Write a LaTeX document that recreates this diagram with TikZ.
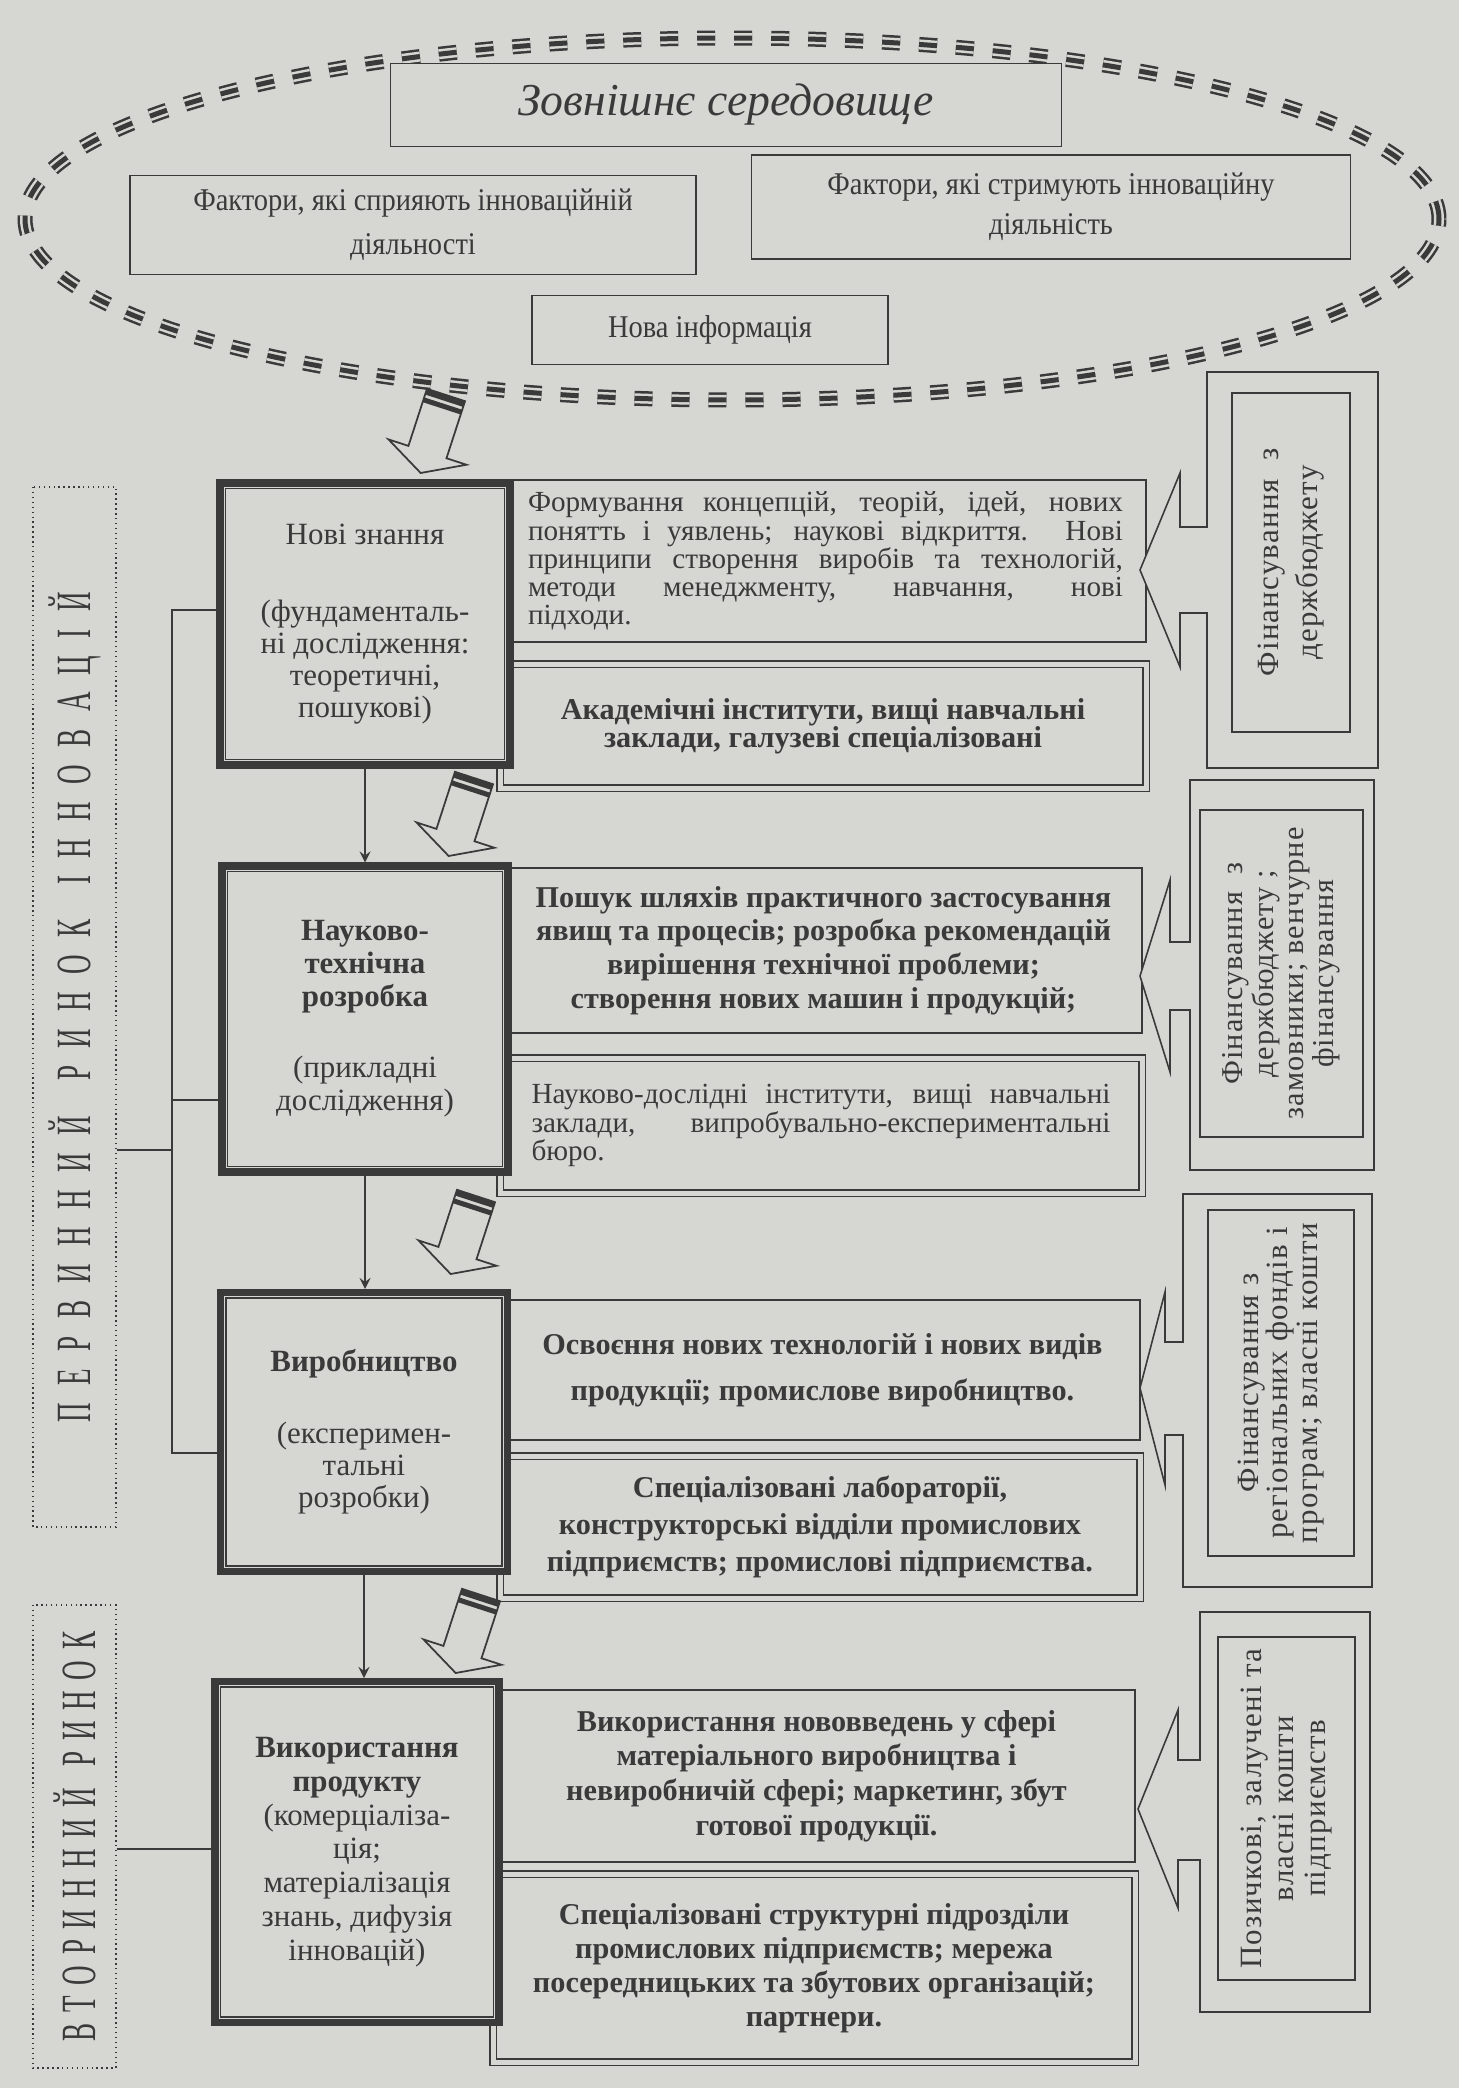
\documentclass[tikz,border=0pt]{standalone}
\usepackage{fontspec}
\setmainfont{Liberation Serif}
\newfontfamily\sidefont{Liberation Serif}[FakeStretch=0.55]
\newfontfamily\topfont{Liberation Serif}[FakeStretch=0.9]
\newfontfamily\fundfont{Liberation Serif}[LetterSpace=4]
\usepackage{tikz}
\definecolor{paper}{RGB}{214,214,210}
\definecolor{ink}{RGB}{58,58,58}
\setlength{\lineskiplimit}{-20pt}
\newcommand{\jl}[2][59.5mm]{\makebox[#1][s]{#2}}
\newcommand{\hollowarrow}[2]{%
  \begin{scope}[shift={(#1,#2)},rotate=-18]
    \draw[hollow] (-20,0) -- (20,0) -- (20,60) -- (41,60) -- (0,82) -- (-41,60) -- (-20,60) -- cycle;
    \fill[ink] (-20,0) rectangle (20,6) (-20,9) rectangle (20,14);
  \end{scope}}

\begin{document}
\begin{tikzpicture}[x=0.1mm,y=-0.1mm,
    every node/.style={text=ink},
    boxline/.style={draw=ink,line width=0.45pt,fill=paper,inner sep=0pt},
    topbox/.style={boxline,align=center,font=\topfont\fontsize{9}{11}\selectfont},
    sidebox/.style={draw=ink,densely dotted,line width=0.4pt,inner sep=0pt,rotate=90,font=\sidefont\fontsize{14}{14}\selectfont},
    stagebox/.style={draw=ink,line width=2pt,fill=paper,align=center,inner sep=0pt,font=\fontsize{8.8}{9.1}\selectfont},
    descbox/.style={boxline,align=center,font=\bfseries\fontsize{8.6}{9.6}\selectfont},
    orgbox/.style={descbox,double=paper,double distance=0.5mm},
    fundbox/.style={boxline,rotate=90,align=center,font=\fundfont\fontsize{8.6}{8.6}\selectfont},
    fundline/.style={draw=ink,line width=0.45pt,fill=paper},
    flow/.style={draw=ink,line width=0.4pt,-stealth},
    link/.style={draw=ink,line width=0.4pt},
    hollow/.style={draw=ink,line width=0.5pt,fill=paper}]

  \useasboundingbox[fill=paper] (0,0) rectangle (1459,2088);

  \foreach \w/\c in {1.5mm/ink,1.0mm/paper,0.5mm/ink}
    \draw[\c,line width=\w,dash pattern=on 1.8mm off 1.9mm] (732,219) ellipse [x radius=70.7mm,y radius=18.1mm];

  \node[topbox,minimum width=67.1mm,minimum height=8.3mm,font=\itshape\fontsize{13}{15}\selectfont] (env) at (726,105) {Зовнішнє середовище};
  \node[topbox,minimum width=56.6mm,minimum height=9.9mm,font=\topfont\fontsize{9}{12.5}\selectfont] (pro) at (413,225) {Фактори, які сприяють інноваційній\\діяльності};
  \node[topbox,minimum width=59.9mm,minimum height=10.4mm,font=\topfont\fontsize{9}{11.5}\selectfont] (contra) at (1051,207) {Фактори, які стримують інноваційну\\діяльність};
  \node[topbox,minimum width=35.6mm,minimum height=6.9mm] (info) at (710,330) {Нова інформація};

  \node[sidebox,minimum width=104mm,minimum height=8.3mm] (prim) at (74.5,1007) {\makebox[83mm][s]{П Е Р В И Н Н И Й \ Р И Н О К \ І Н Н О В А Ц І Й}};
  \node[sidebox,minimum width=46.3mm,minimum height=8.3mm] (sec) at (74.5,1836.5) {\makebox[41mm][s]{В Т О Р И Н Н И Й \ Р И Н О К}};

  \node[descbox,minimum width=64.1mm,minimum height=16.2mm,align=left,font=\fontsize{8.3}{8}\selectfont] (d1a) at (825.5,561)
    {\jl{Формування концепцій, теорій, ідей, нових}\\ \jl{понятть і уявлень; наукові відкриття. Нові}\\ \jl{принципи створення виробів та технологій,}\\ \jl{методи менеджменту, навчання, нові}\\ підходи.};
  \node[orgbox,minimum width=64.6mm,minimum height=12.4mm,font=\bfseries\fontsize{8.6}{8}\selectfont] (d1b) at (823,726)
    {Академічні інститути, вищі навчальні\\заклади, галузеві спеціалізовані};
  \node[descbox,minimum width=63.7mm,minimum height=16.5mm] (d2a) at (823.5,950.5)
    {Пошук шляхів практичного застосування\\явищ та процесів; розробка рекомендацій\\вирішення технічної проблеми;\\створення нових машин і продукцій;};
  \node[orgbox,minimum width=64.2mm,minimum height=13.5mm,align=left,font=\fontsize{8.3}{8}\selectfont] (d2b) at (821,1125.5)
    {\jl[57.9mm]{Науково-дослідні інститути, вищі навчальні}\\ \jl[57.9mm]{заклади, випробувально-експериментальні}\\ бюро.};
  \node[descbox,minimum width=63.5mm,minimum height=14mm,font=\bfseries\fontsize{8.6}{13}\selectfont] (d3a) at (822.5,1370)
    {Освоєння нових технологій і нових видів\\продукції; промислове виробництво.};
  \node[orgbox,minimum width=64mm,minimum height=14.2mm,font=\bfseries\fontsize{8.6}{10.5}\selectfont] (d3b) at (820,1527)
    {Спеціалізовані лабораторії,\\конструкторські відділи промислових\\підприємств; промислові підприємства.};
  \node[descbox,minimum width=63.7mm,minimum height=17.2mm,font=\bfseries\fontsize{8.6}{9.9}\selectfont] (d4a) at (816.5,1776)
    {Використання нововведень у сфері\\матеріального виробництва і\\невиробничій сфері; маркетинг, збут\\готової продукції.};
  \node[orgbox,minimum width=64.2mm,minimum height=18.8mm,font=\bfseries\fontsize{8.6}{9.7}\selectfont] (d4b) at (814,1968)
    {Спеціалізовані структурні підрозділи\\промислових підприємств; мережа\\посередницьких та збутових організацій;\\партнери.};

  \node[stagebox,minimum width=29mm,minimum height=28.2mm] (nz) at (365,624)
    {Нові знання\\[4.5mm](фундаменталь-\\ні дослідження:\\теоретичні,\\пошукові)};
  \node[stagebox,minimum width=28.6mm,minimum height=30.6mm,font=\fontsize{8.8}{9.4}\selectfont] (ntr) at (365,1019)
    {\textbf{Науково-}\\\textbf{технічна}\\\textbf{розробка}\\[3.8mm](прикладні\\дослідження)};
  \node[stagebox,minimum width=28.7mm,minimum height=27.9mm] (vyr) at (364,1432)
    {\textbf{Виробництво}\\[4mm](експеримен-\\тальні\\розробки)};
  \node[stagebox,minimum width=28.4mm,minimum height=34.1mm,font=\fontsize{8.8}{9.6}\selectfont] (vyk) at (357,1852)
    {\textbf{Використання}\\\textbf{продукту}\\(комерціаліза-\\ція;\\матеріалізація\\знань, дифузія\\інновацій)};
  \foreach \b in {nz,ntr,vyr,vyk}
    \draw[ink,line width=0.45pt] ([shift={(9,9)}]\b.north west) rectangle ([shift={(-9,-9)}]\b.south east);

  \draw[fundline] (1207,372) -- (1378,372) -- (1378,768) -- (1207,768) -- (1207,613) -- (1180,613) -- (1180,667) -- (1140,570) -- (1180,473) -- (1180,527) -- (1207,527) -- cycle;
  \node[fundbox,minimum width=33.9mm,minimum height=11.8mm,font=\fundfont\fontsize{8.8}{11}\selectfont] (f1) at (1291,562.5) {Фінансування~~з\\держбюджету};
  \draw[fundline] (1190,780) -- (1374,780) -- (1374,1170) -- (1190,1170) -- (1190,1010) -- (1170,1010) -- (1170,1072) -- (1140,976) -- (1170,880) -- (1170,942) -- (1190,942) -- cycle;
  \node[fundbox,minimum width=32.7mm,minimum height=16.3mm] (f2) at (1281.5,973.5) {Фінансування~~з\\держбюджету ;\\замовники; венчурне\\фінансування};
  \draw[fundline] (1183,1194) -- (1372,1194) -- (1372,1587) -- (1183,1587) -- (1183,1435) -- (1165,1435) -- (1165,1485) -- (1140,1388) -- (1165,1292) -- (1165,1342) -- (1183,1342) -- cycle;
  \node[fundbox,minimum width=34.6mm,minimum height=14.6mm,font=\fundfont\fontsize{8.8}{8.3}\selectfont] (f3) at (1281,1383) {Фінансування з\\регіональних фондів і\\програм; власні кошти};
  \draw[fundline] (1200,1612) -- (1370,1612) -- (1370,2012) -- (1200,2012) -- (1200,1860) -- (1178,1860) -- (1178,1908) -- (1138,1809) -- (1178,1710) -- (1178,1760) -- (1200,1760) -- cycle;
  \node[fundbox,minimum width=34.3mm,minimum height=13.7mm,font=\fundfont\fontsize{8.8}{9.1}\selectfont] (f4) at (1286.5,1808.5) {Позичкові, залучені та\\власні кошти\\підприємств};

  \hollowarrow{446}{395}
  \hollowarrow{474}{778}
  \hollowarrow{476}{1196}
  \hollowarrow{481}{1595}

  \draw[flow] (nz.south) -- (nz.south |- ntr.north);
  \draw[flow] (ntr.south) -- (ntr.south |- vyr.north);
  \draw[flow] (vyr.south) -- (vyr.south |- vyk.north);

  \coordinate (j1) at (172,610);
  \coordinate (j2) at (172,1100);
  \coordinate (j3) at (172,1453);
  \coordinate (j4) at (172,1150);
  \coordinate (j5) at (150,1849);
  \draw[link] (nz.west |- j1) -| (j3) -- (vyr.west |- j3);
  \draw[link] (j2) -- (ntr.west |- j2);
  \draw[link] (prim.south |- j4) -- (j4);
  \draw[link] (sec.south |- j5) -- (vyk.west |- j5);
\end{tikzpicture}
\end{document}
